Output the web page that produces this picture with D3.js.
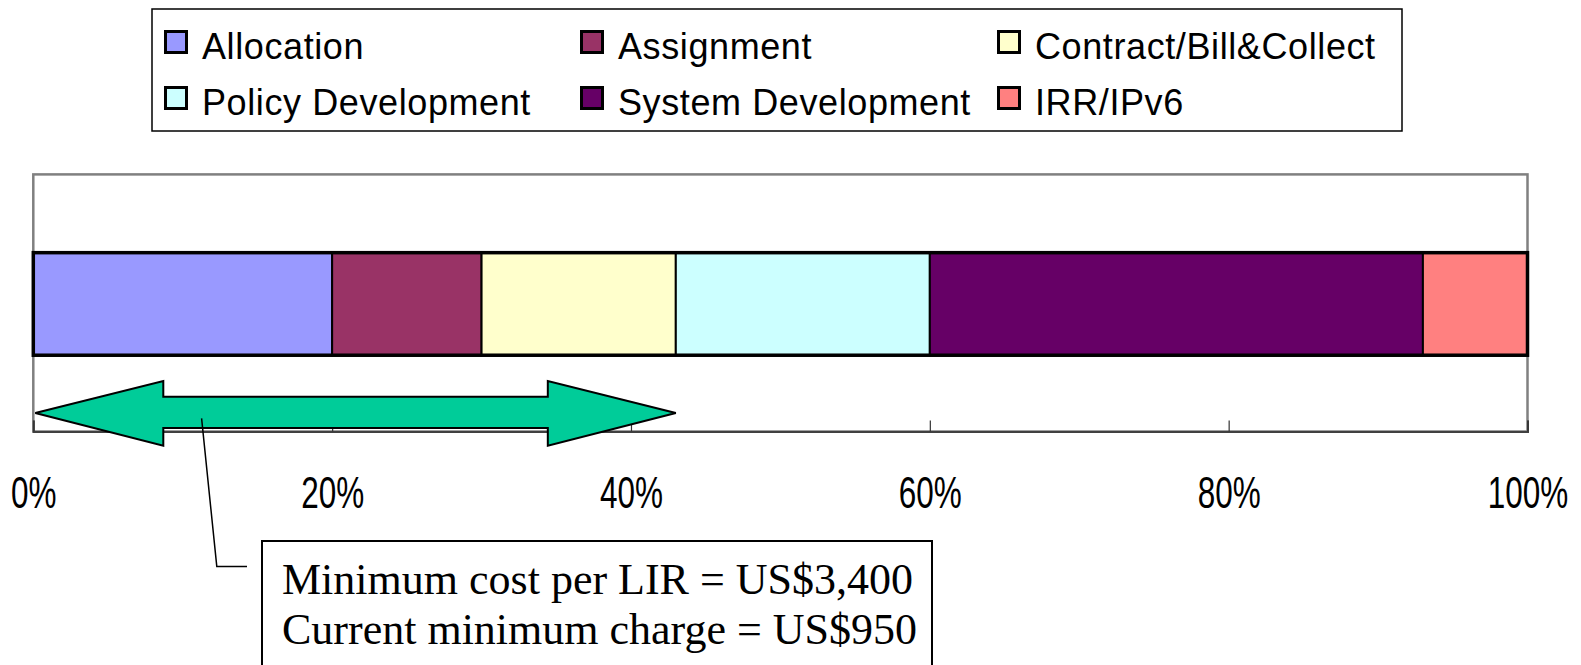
<!DOCTYPE html>
<meta charset="utf-8">
<script src="https://d3js.org/d3.v7.min.js"></script>
<style>
  body { margin: 0; background: #fff; }
</style>
<div id="chart"></div>
<script>

// data
const categories = ["Allocation", "Assignment", "Contract/Bill&Collect",
                    "Policy Development", "System Development", "IRR/IPv6"];
const shares = [20, 10, 13, 17, 33, 7];   // percent of total cost
const colors = ["#9999ff", "#993366", "#ffffcc", "#ccffff", "#660066", "#ff8080"];
const tickValues = [0, 20, 40, 60, 80, 100];
const arrowCovers = 3;   // arrow spans the first three categories
const calloutLines = ["Minimum cost per LIR = US$3,400", "Current minimum charge = US$950"];

const W = 1581, H = 665;
const plot = {left: 33.3, right: 1527.5, top: 174.4, bottom: 431.5};

const svg = d3.select("#chart").append("svg")
  .attr("width", W).attr("height", H);

const x = d3.scaleLinear().domain([0, 100]).range([plot.left, plot.right]);
const y = d3.scaleBand().domain(["LIR"]).range([plot.top + 2, plot.bottom]).padding(0.4265);

// stacked data
let acc = 0;
const stack = shares.map((v, i) => {
  const d = {name: categories[i], x0: acc, x1: acc + v, color: colors[i]};
  acc += v;
  return d;
});

// plot frame
svg.append("rect")
  .attr("x", plot.left).attr("y", plot.top)
  .attr("width", plot.right - plot.left).attr("height", plot.bottom - plot.top)
  .attr("fill", "none").attr("stroke", "#808080").attr("stroke-width", 2.5);

// axis with inward ticks
const axis = svg.append("g")
  .attr("transform", `translate(0, ${plot.bottom})`)
  .call(d3.axisBottom(x).tickValues(tickValues).tickSize(-11).tickFormat(d => d + "%"));
axis.select(".domain").attr("stroke", "#404040").attr("stroke-width", 2);
axis.selectAll(".tick line").attr("stroke", "#333").attr("stroke-width", 1.2);
axis.selectAll(".tick text")
  .attr("y", 77).attr("dy", null)
  .attr("transform", "scale(0.7,1)")
  .attr("fill", "#000")
  .style("font-family", "'Liberation Sans', Arial, sans-serif")
  .style("font-size", "45px");

// bar segments
svg.append("g").selectAll("rect")
  .data(stack)
  .join("rect")
    .attr("x", d => x(d.x0))
    .attr("y", y("LIR"))
    .attr("width", d => x(d.x1) - x(d.x0))
    .attr("height", y.bandwidth())
    .attr("fill", d => d.color)
    .attr("stroke", "#000")
    .attr("stroke-width", 2);
svg.append("rect")
  .attr("x", x(0)).attr("y", y("LIR"))
  .attr("width", x(100) - x(0)).attr("height", y.bandwidth())
  .attr("fill", "none").attr("stroke", "#000").attr("stroke-width", 3.5);

// double-headed arrow from 0% to end of covered categories
const ax0 = x(0) + 2, ax1 = x(stack[arrowCovers - 1].x1);
const cy = 413, headTop = 381, headBot = 445.7, shaftTop = 396.7, shaftBot = 428, hl = 128;
const arrowPts = [
  [ax0, cy], [ax0 + hl, headTop], [ax0 + hl, shaftTop], [ax1 - hl, shaftTop], [ax1 - hl, headTop],
  [ax1, cy], [ax1 - hl, headBot], [ax1 - hl, shaftBot], [ax0 + hl, shaftBot], [ax0 + hl, headBot]
];
svg.append("polygon")
  .attr("points", arrowPts.map(p => p.join(",")).join(" "))
  .attr("fill", "#00cc99").attr("stroke", "#000").attr("stroke-width", 2);

// leader line to callout
svg.append("polyline")
  .attr("points", "201.6,418.4 216.8,566.6 247,566.6")
  .attr("fill", "none").attr("stroke", "#000").attr("stroke-width", 1.5);

// callout box
svg.append("rect")
  .attr("x", 262).attr("y", 541).attr("width", 670).attr("height", 160)
  .attr("fill", "#fff").attr("stroke", "#000").attr("stroke-width", 2);
svg.append("g").selectAll("text")
  .data(calloutLines)
  .join("text")
    .attr("x", 282)
    .attr("y", (d, i) => 594 + i * 50)
    .style("font-family", "'Liberation Serif', 'Times New Roman', serif")
    .style("font-size", "44px")
    .text(d => d);

// legend
const legend = svg.append("g");
legend.append("rect")
  .attr("x", 152).attr("y", 9).attr("width", 1250).attr("height", 122)
  .attr("fill", "#fff").attr("stroke", "#000").attr("stroke-width", 1.5);
const colX = [164, 580, 997], rowY = [58.5, 114.5];
const item = legend.selectAll("g.item")
  .data(stack)
  .join("g")
    .attr("class", "item")
    .attr("transform", (d, i) => `translate(${colX[i % 3]}, ${rowY[Math.floor(i / 3)]})`);
item.append("rect")
  .attr("x", 1.5).attr("y", -27).attr("width", 21).attr("height", 21)
  .attr("fill", d => d.color).attr("stroke", "#000").attr("stroke-width", 3);
item.append("text")
  .attr("x", 38)
  .attr("y", 0)
  .style("font-family", "'Liberation Sans', Arial, sans-serif")
  .style("font-size", "36px")
  .style("letter-spacing", "0.6px")
  .text(d => d.name);

</script>
